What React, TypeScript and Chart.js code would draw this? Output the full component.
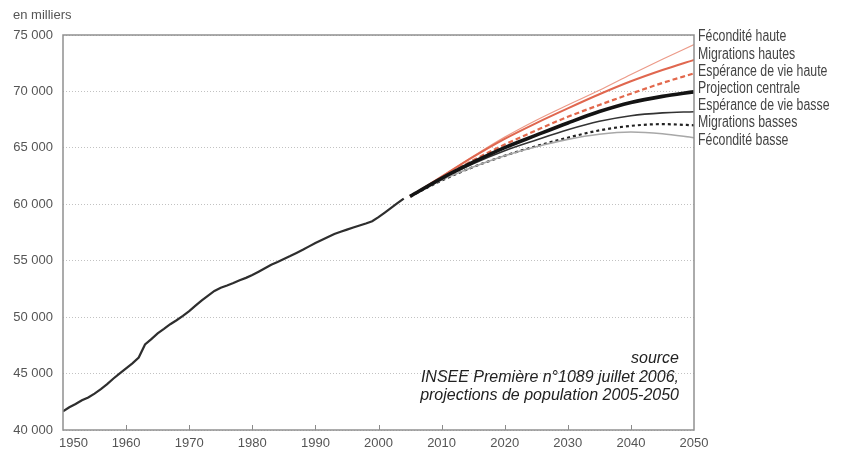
import React, { useEffect, useRef } from "react";
import { Chart, registerables } from "chart.js";

Chart.register(...registerables);

const histYears: number[] = [
  1950, 1951, 1952, 1953, 1954, 1955, 1956, 1957, 1958, 1959,
  1960, 1961, 1962, 1963, 1964, 1965, 1966, 1967, 1968, 1969,
  1970, 1971, 1972, 1973, 1974, 1975, 1976, 1977, 1978, 1979,
  1980, 1981, 1982, 1983, 1984, 1985, 1986, 1987, 1988, 1989,
  1990, 1991, 1992, 1993, 1994, 1995, 1996, 1997, 1998, 1999,
  2000, 2001, 2002, 2003, 2004,
];
const histValues: number[] = [
  41647, 42010, 42300, 42636, 42886, 43228, 43628, 44059, 44563, 45015,
  45465, 45904, 46422, 47574, 48058, 48562, 48954, 49374, 49723, 50109,
  50528, 51016, 51486, 51916, 52320, 52600, 52798, 53019, 53272, 53481,
  53731, 54029, 54335, 54649, 54894, 55157, 55411, 55682, 55966, 56270,
  56577, 56841, 57111, 57369, 57565, 57753, 57936, 58116, 58299, 58497,
  58858, 59267, 59686, 60102, 60505,
];

const projYears: number[] = [2005, 2010, 2015, 2020, 2025, 2030, 2035, 2040, 2045, 2050];
const feconditeHaute: number[] = [60702, 62450, 64250, 65950, 67450, 68800, 70100, 71500, 72850, 74150];
const migrationsHautes: number[] = [60702, 62450, 64200, 65800, 67200, 68500, 69750, 70900, 71900, 72800];
const esperanceHaute: number[] = [60702, 62350, 63900, 65300, 66550, 67750, 68800, 69800, 70750, 71600];
const projectionCentrale: number[] = [60702, 62302, 63728, 65020, 66123, 67204, 68214, 69019, 69563, 69961];
const esperanceBasse: number[] = [60702, 62250, 63600, 64750, 65700, 66600, 67350, 67850, 68100, 68200];
const migrationsBasses: number[] = [60702, 62100, 63300, 64300, 65150, 65900, 66550, 66950, 67100, 67000];
const feconditeBasse: number[] = [60702, 62150, 63300, 64300, 65100, 65750, 66200, 66400, 66250, 65900];

const seriesLabels: string[] = [
  "Fécondité haute",
  "Migrations hautes",
  "Espérance de vie haute",
  "Projection centrale",
  "Espérance de vie basse",
  "Migrations basses",
  "Fécondité basse",
];
const seriesValues: number[][] = [
  feconditeHaute,
  migrationsHautes,
  esperanceHaute,
  projectionCentrale,
  esperanceBasse,
  migrationsBasses,
  feconditeBasse,
];
const seriesStyles = [
  { color: "#ec9a88", width: 1.2, dash: [] as number[] },
  { color: "#e0674f", width: 2, dash: [] as number[] },
  { color: "#e2684c", width: 2.2, dash: [5, 3] },
  { color: "#141414", width: 3.6, dash: [] as number[] },
  { color: "#333333", width: 1.6, dash: [] as number[] },
  { color: "#222222", width: 2.2, dash: [3, 3] },
  { color: "#a8a8a8", width: 1.6, dash: [] as number[] },
];

const yTicks = { min: 40000, max: 75000, step: 5000 };
const xTicks = { min: 1950, max: 2050, step: 10 };
const unitLabel = "en milliers";
const sourceLines: string[] = [
  "source",
  "INSEE Première n°1089 juillet 2006,",
  "projections de population 2005-2050",
];

const fmt = (v: number) => {
  const s = String(Math.round(v));
  return s.replace(/\B(?=(\d{3})+(?!\d))/g, " ");
};

const decorPlugin = {
  id: "decor",
  beforeDatasetsDraw(chart: any) {
    const { ctx, chartArea, scales } = chart;
    ctx.save();
    ctx.strokeStyle = "#8a8a8a";
    ctx.lineWidth = 1;
    for (let v = xTicks.min + xTicks.step; v < xTicks.max; v += xTicks.step) {
      const x = Math.round(scales.x.getPixelForValue(v)) + 0.5;
      ctx.beginPath();
      ctx.moveTo(x, chartArea.bottom);
      ctx.lineTo(x, chartArea.bottom - 5);
      ctx.stroke();
    }
    ctx.restore();
  },
  afterDraw(chart: any) {
    const { ctx, chartArea, scales } = chart;
    ctx.save();
    // frame
    ctx.strokeStyle = "#909090";
    ctx.lineWidth = 1.5;
    ctx.strokeRect(chartArea.left, chartArea.top, chartArea.right - chartArea.left, chartArea.bottom - chartArea.top);

    // x tick labels
    ctx.fillStyle = "#555";
    ctx.font = "13px 'Liberation Sans', Arial, sans-serif";
    ctx.textBaseline = "middle";
    for (let v = xTicks.min; v <= xTicks.max; v += xTicks.step) {
      const x = scales.x.getPixelForValue(v);
      if (v === xTicks.min) {
        ctx.textAlign = "left";
        ctx.fillText(String(v), x - 4, chartArea.bottom + 13);
      } else {
        ctx.textAlign = "center";
        ctx.fillText(String(v), x, chartArea.bottom + 13);
      }
    }

    // unit label
    ctx.textAlign = "left";
    ctx.fillText(unitLabel, 13, 15);

    // series labels
    const ends = seriesValues.map((arr) => scales.y.getPixelForValue(arr[arr.length - 1]));
    const mean = ends.reduce((a, b) => a + b, 0) / ends.length;
    const gap = 17.2;
    const start = mean - 3.5 - (gap * (ends.length - 1)) / 2;
    ctx.fillStyle = "#444";
    ctx.font = "16px 'Liberation Sans', Arial, sans-serif";
    ctx.textAlign = "left";
    const sx = 0.77;
    seriesLabels.forEach((lbl, i) => {
      ctx.save();
      ctx.translate(chartArea.right + 4, start + i * gap);
      ctx.scale(sx, 1);
      ctx.fillText(lbl, 0, 0);
      ctx.restore();
    });

    // source
    ctx.fillStyle = "#222";
    ctx.font = "italic 16px 'Liberation Sans', Arial, sans-serif";
    ctx.textAlign = "right";
    sourceLines.forEach((l, i) => {
      ctx.fillText(l, chartArea.right - 15, chartArea.bottom - 71 + i * 18.5);
    });
    ctx.restore();
  },
};

export default function App() {
  const ref = useRef<HTMLCanvasElement | null>(null);
  useEffect(() => {
    if (!ref.current) return;
    const datasets: any[] = [
      {
        label: "Historique",
        data: histYears.map((x, i) => ({ x, y: histValues[i] })),
        borderColor: "#2e2e2e",
        borderWidth: 2.2,
        pointRadius: 0,
        fill: false,
        tension: 0,
        order: 10,
      },
    ];
    seriesValues.forEach((vals, i) => {
      const st = seriesStyles[i];
      datasets.push({
        label: seriesLabels[i],
        data: projYears.map((x, j) => ({ x, y: vals[j] })),
        borderColor: st.color,
        borderWidth: st.width,
        borderDash: st.dash,
        pointRadius: 0,
        fill: false,
        cubicInterpolationMode: "monotone",
        order: i === 3 ? 0 : 10 - i,
      });
    });
    const chart = new Chart(ref.current, {
      type: "line",
      data: { datasets },
      plugins: [decorPlugin],
      options: {
        animation: false,
        responsive: false,
        maintainAspectRatio: false,
        layout: { padding: { left: 0, right: 155, top: 35, bottom: 0 } },
        plugins: { legend: { display: false }, tooltip: { enabled: false } },
        scales: {
          x: {
            type: "linear",
            min: xTicks.min,
            max: xTicks.max,
            grid: { display: false },
            border: { display: false },
            afterFit: (s: any) => {
              s.height = 25;
            },
            ticks: {
              stepSize: xTicks.step,
              display: false,
            },
          },
          y: {
            min: yTicks.min,
            max: yTicks.max,
            grid: { color: "#c2c2c2", lineWidth: 1, drawTicks: false },
            border: { display: false, dash: [1, 2] },
            afterFit: (s: any) => {
              s.width = 63;
            },
            ticks: {
              stepSize: yTicks.step,
              color: "#555",
              padding: 10,
              font: { family: "'Liberation Sans', Arial, sans-serif", size: 13 },
              callback: (v: any) => fmt(v),
            },
          },
        },
      },
    });
    return () => chart.destroy();
  }, []);
  return (
    <div style={{ position: "absolute", left: 0, top: 0, width: 849, height: 455, background: "#fff" }}>
      <canvas ref={ref} width={849} height={455} style={{ display: "block" }} />
    </div>
  );
}
